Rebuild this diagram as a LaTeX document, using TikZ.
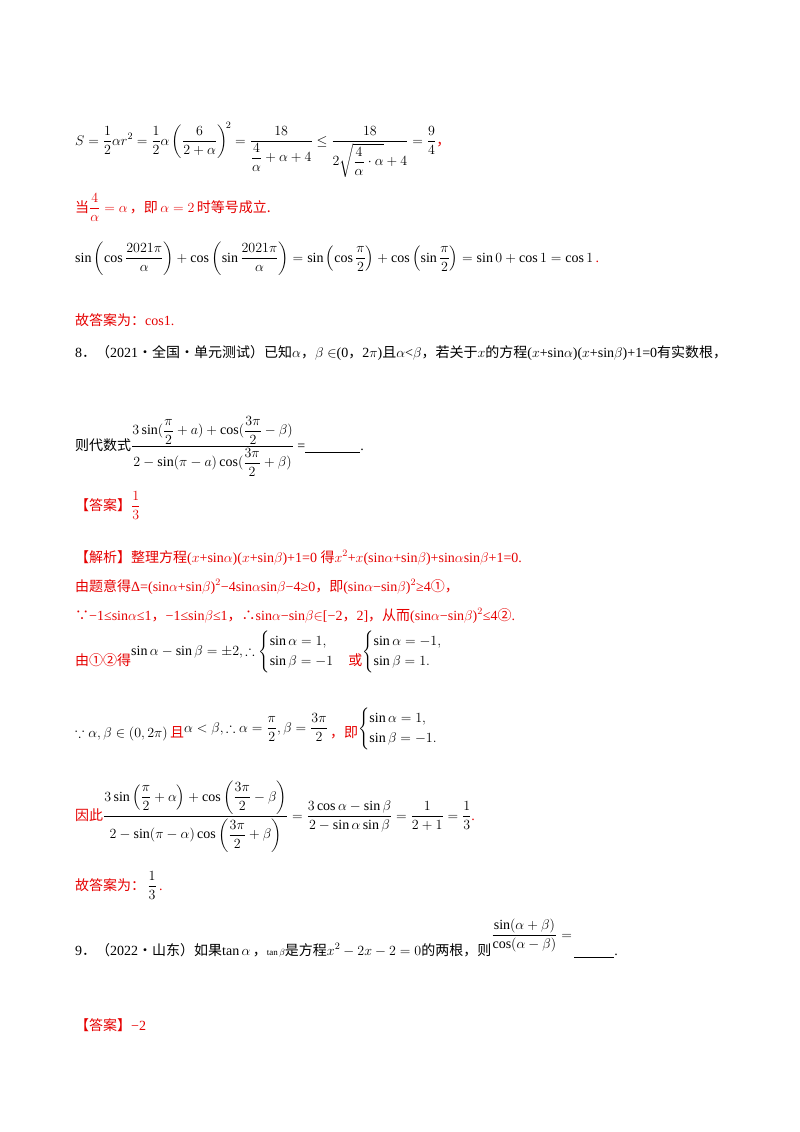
\documentclass[tikz,border=0pt]{standalone}
\usepackage{amsmath,amssymb}
\usepackage{fix-cm}
\usepackage{fontspec}
\setmainfont{Liberation Serif}
\newfontfamily\cjk{Noto Sans CJK SC}
\definecolor{rd}{RGB}{230,0,0}
\tikzset{t/.style={anchor=base west,inner sep=0pt,font=\fontsize{14}{17}\selectfont}}
\begin{document}
\begin{tikzpicture}[x=1pt,y=1pt]
\useasboundingbox[fill=white] (0,0) rectangle (800,-1132);
\node[t] (l1) at (75,-145) {$S=\dfrac12\alpha r^2=\dfrac12\alpha\left(\dfrac{6}{2+\alpha}\right)^{\!2}=\dfrac{18}{\dfrac4\alpha+\alpha+4}\le\dfrac{18}{2\sqrt{\dfrac4\alpha\cdot\alpha}+4}=\dfrac94$\textcolor{rd}{\cjk ，}};
\node[t,text=rd] (l2) at (75,-212) {{\cjk 当}$\dfrac4\alpha=\alpha$\,{\cjk ，即}\,$\alpha=2$\,{\cjk 时等号成立.}};
\node[t] (l3) at (75,-262) {$\sin\left(\cos\dfrac{2021\pi}{\alpha}\right)+\cos\left(\sin\dfrac{2021\pi}{\alpha}\right)=\sin\left(\cos\dfrac{\pi}{2}\right)+\cos\left(\sin\dfrac{\pi}{2}\right)=\sin0+\cos1=\cos1$\textcolor{rd}{\,.}};
\node[t,text=rd] (l4) at (75,-325) {{\cjk 故答案为：}cos1.};
\node[t] (l5) at (75,-357) {8{\cjk ．（}2021{\cjk ·全国·单元测试）已知}$\alpha${\cjk ，}$\beta\in$(0{\cjk ，}2$\pi$){\cjk 且}$\alpha$<$\beta${\cjk ，若关于}$x${\cjk 的方程}($x$+sin$\alpha$)($x$+sin$\beta$)+1=0{\cjk 有实数根，}};
\node[t] (l6) at (75,-450) {{\cjk 则代数式}$\dfrac{3\sin(\dfrac{\pi}{2}+a)+\cos(\dfrac{3\pi}{2}-\beta)}{2-\sin(\pi-a)\cos(\dfrac{3\pi}{2}+\beta)}$ =\underline{\hspace{55pt}}.};
\node[t,text=rd] (l7) at (75,-510) {{\cjk 【答案】}$\dfrac13$};
\node[t,text=rd] (l8) at (75,-562) {{\cjk 【解析】整理方程}($x$+sin$\alpha$)($x$+sin$\beta$)+1=0 {\cjk 得}$x^2$+$x$(sin$\alpha$+sin$\beta$)+sin$\alpha$sin$\beta$+1=0.};
\node[t,text=rd] (l9) at (75,-591) {{\cjk 由题意得}Δ=(sin$\alpha$+sin$\beta$)$^2$−4sin$\alpha$sin$\beta$−4≥0{\cjk ，即}(sin$\alpha$−sin$\beta$)$^2$≥4{\cjk ①，}};
\node[t,text=rd] (l10) at (75,-620) {{\cjk ∵}−1≤sin$\alpha$≤1{\cjk ，}−1≤sin$\beta$≤1{\cjk ，∴}sin$\alpha$−sin$\beta$$\in$[−2{\cjk ，}2]{\cjk ，从而}(sin$\alpha$−sin$\beta$)$^2$≤4{\cjk ②}.};
\node[t] (l11) at (75,-665) {\textcolor{rd}{\cjk 由①②得}\raisebox{10pt}{$\sin\alpha-\sin\beta=\pm2,\therefore\begin{cases}\sin\alpha=1,\\\sin\beta=-1\end{cases}$}\textcolor{rd}{\cjk 或}\raisebox{10pt}{$\begin{cases}\sin\alpha=-1,\\\sin\beta=1.\end{cases}$}};
\node[t] (l12) at (75,-737) {$\because\alpha,\beta\in(0,2\pi)$\,\textcolor{rd}{\cjk 且}\raisebox{5pt}{$\alpha<\beta,\therefore\alpha=\dfrac\pi2,\beta=\dfrac{3\pi}{2}$}\,\textcolor{rd}{\cjk ，即}\raisebox{5pt}{$\begin{cases}\sin\alpha=1,\\\sin\beta=-1.\end{cases}$}};
\node[t] (l13) at (75,-820) {\textcolor{rd}{\cjk 因此}$\dfrac{3\sin\left(\dfrac\pi2+\alpha\right)+\cos\left(\dfrac{3\pi}2-\beta\right)}{2-\sin(\pi-\alpha)\cos\left(\dfrac{3\pi}2+\beta\right)}=\dfrac{3\cos\alpha-\sin\beta}{2-\sin\alpha\sin\beta}=\dfrac1{2+1}=\dfrac13$\textcolor{rd}{.}};
\node[t] (l14) at (75,-890) {\textcolor{rd}{\cjk 故答案为：}\,$\dfrac13$\,\textcolor{rd}{.}};
\node[t] (l15) at (75,-955) {9{\cjk ．（}2022{\cjk ·山东）如果}$\tan\alpha$\,{\cjk ，}{\small$\tan\beta$}{\cjk 是方程}$x^2-2x-2=0${\cjk 的两根，则}\raisebox{16pt}{$\dfrac{\sin(\alpha+\beta)}{\cos(\alpha-\beta)}=$}\,\underline{\hspace{40pt}}.};
\node[t,text=rd] (l16) at (75,-1030) {{\cjk 【答案】}−2};
\end{tikzpicture}
\end{document}
